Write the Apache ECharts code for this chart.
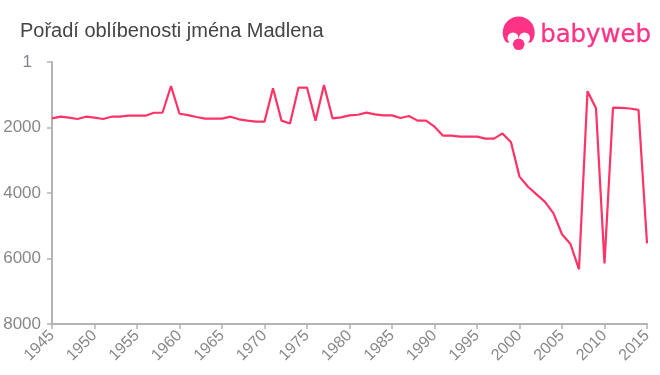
<!DOCTYPE html>
<html><head><meta charset="utf-8">
<style>html,body{margin:0;padding:0;background:#fff}#c{width:660px;height:375px}</style>
<script src="https://cdn.jsdelivr.net/npm/echarts@6/dist/echarts.min.js"></script>
</head><body><div id="c"></div>
<script>
const chartTitle = "Pořadí oblíbenosti jména Madlena";
const years = [1945,1946,1947,1948,1949,1950,1951,1952,1953,1954,1955,1956,1957,1958,1959,1960,1961,1962,1963,1964,1965,1966,1967,1968,1969,1970,1971,1972,1973,1974,1975,1976,1977,1978,1979,1980,1981,1982,1983,1984,1985,1986,1987,1988,1989,1990,1991,1992,1993,1994,1995,1996,1997,1998,1999,2000,2001,2002,2003,2004,2005,2006,2007,2008,2009,2010,2011,2012,2013,2014,2015];
const ranks = [1720,1670,1700,1740,1670,1700,1740,1670,1670,1640,1640,1640,1550,1550,733,1580,1620,1680,1730,1730,1730,1670,1750,1790,1820,1820,800,1790,1880,780,780,1790,700,1720,1690,1630,1610,1545,1600,1630,1630,1710,1650,1790,1790,1975,2250,2250,2280,2280,2280,2340,2340,2180,2450,3500,3810,4040,4270,4620,5260,5560,6330,890,1415,6150,1395,1400,1420,1460,5540];
const rankTicks = {0:"{top|1}",2000:"2000",4000:"4000",6000:"6000",8000:"8000"};
const pink = "#ff3366", grey = "#b3b3b3", labelGrey = "#888888";
const chart = echarts.init(document.getElementById("c"), null, {renderer:"canvas"});
chart.setOption({
  animation:false,
  backgroundColor:"#fff",
  title:{text:chartTitle,left:15,top:16,textStyle:{fontFamily:"Liberation Sans",fontSize:20,fontWeight:"normal",color:"#444444"}},
  grid:{left:52,right:13,top:62,bottom:51,containLabel:false},
  xAxis:{type:"value",min:1945,max:2015,interval:5,
    axisLine:{onZero:false,lineStyle:{color:grey,width:2}},
    axisTick:{length:5,lineStyle:{color:grey,width:1.5}},
    splitLine:{show:false},
    axisLabel:{rotate:45,fontFamily:"Liberation Sans",fontSize:16,color:labelGrey,margin:9,formatter:v=>String(v),hideOverlap:false,showMinLabel:true,showMaxLabel:true}},
  yAxis:{type:"value",inverse:true,min:0,max:8000,interval:2000,
    axisLine:{show:true,lineStyle:{color:grey,width:2}},
    axisTick:{show:true,length:5,lineStyle:{color:grey,width:1.5}},
    splitLine:{show:false},
    axisLabel:{fontFamily:"Liberation Sans",fontSize:17,color:labelGrey,margin:11,formatter:v=>rankTicks[v],
      rich:{top:{fontFamily:"Liberation Sans",fontSize:17,color:"#7f8494",padding:[0,9,0,0]}}}},
  series:[{type:"line",data:years.map((y,i)=>[y,ranks[i]]),showSymbol:false,symbol:"none",clip:false,
    lineStyle:{color:pink,width:2.2}}],
  graphic:[
    {type:"circle",shape:{cx:518.7,cy:32.5,r:16},style:{fill:"#ff3385"}},
    {type:"circle",shape:{cx:513,cy:38,r:5.5},style:{fill:"#fff"}},
    {type:"circle",shape:{cx:524.5,cy:38,r:5.5},style:{fill:"#fff"}},
    {type:"rect",shape:{x:502,y:42.5,width:34,height:8},style:{fill:"#fff"}},
    {type:"rect",shape:{x:510,y:38,width:17,height:6},style:{fill:"#fff"}},
    {type:"circle",shape:{cx:518.7,cy:44.3,r:5.8},style:{fill:"#ff3385"}},
    {type:"text",left:540,top:24,style:{text:"babyweb",fontFamily:"DejaVu Sans",fontSize:24.4,fill:"#ff3385",stroke:"#ff3385",lineWidth:0.3}}
  ]
});
</script></body></html>
